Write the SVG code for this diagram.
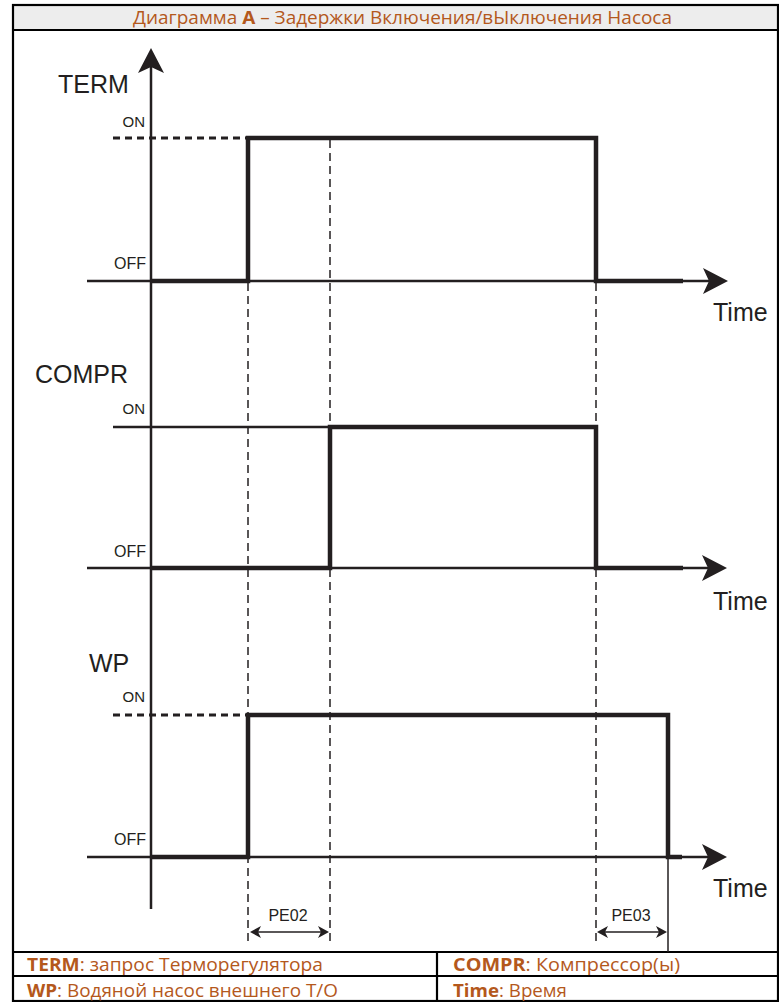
<svg xmlns="http://www.w3.org/2000/svg" width="779" height="1002" viewBox="0 0 779 1002">
<style>
.frame{fill:none;stroke:#000;stroke-width:2.2}
.hdr{font-family:"Open Sans","Noto Sans",sans-serif;font-size:18px;fill:#b4581c}
.b{font-weight:bold}
.lbl{font-family:"Liberation Sans",Arial,sans-serif;fill:#231f20}
.big{font-size:25px}
.on{font-size:15px;text-anchor:end}
.off{font-size:16px;text-anchor:end}
.pe{font-size:16px;text-anchor:middle}
.axis{fill:none;stroke:#231f20;stroke-width:2.5}
.sig{fill:none;stroke:#231f20;stroke-width:4.5;stroke-linejoin:miter}
.dashH{fill:none;stroke:#231f20;stroke-width:3;stroke-dasharray:7 5}
.dashV{fill:none;stroke:#231f20;stroke-width:1.5;stroke-dasharray:8 5}
.thin{fill:none;stroke:#231f20;stroke-width:1.5}
.ah{fill:#231f20}
</style>
<rect width="779" height="1002" fill="#fff"/>
<g id="header">
<rect x="13" y="5" width="765" height="25" fill="#ededed"/>
<text class="hdr" x="133" y="24" textLength="539" lengthAdjust="spacingAndGlyphs">Диаграмма <tspan class="b">A</tspan> –  Задержки Включения/вЫключения Насоса</text>
</g>
<g id="frame">
<rect class="frame" x="13" y="5" width="765" height="996"/>
<line class="frame" x1="13" y1="30" x2="778" y2="30"/>
<line class="frame" x1="13" y1="952" x2="778" y2="952"/>
<line class="frame" x1="13" y1="976" x2="778" y2="976" stroke-width="1.6"/>
<line class="frame" x1="437" y1="952" x2="437" y2="1002" stroke-width="1.6"/>
</g>
<g id="legend">
<text class="hdr" x="27" y="971" textLength="296" lengthAdjust="spacingAndGlyphs"><tspan class="b">TERM</tspan>: запрос Терморегулятора</text>
<text class="hdr" x="453" y="971" textLength="227" lengthAdjust="spacingAndGlyphs"><tspan class="b">COMPR</tspan>: Компрессор(ы)</text>
<text class="hdr" x="27" y="997" textLength="311" lengthAdjust="spacingAndGlyphs"><tspan class="b">WP</tspan>: Водяной насос внешнего Т/О</text>
<text class="hdr" x="453" y="997" textLength="114" lengthAdjust="spacingAndGlyphs"><tspan class="b">Time</tspan>: Время</text>
</g>
<g id="connectors">
<line class="dashV" x1="248" y1="283" x2="248" y2="944"/>
<line class="dashV" x1="330" y1="140" x2="330" y2="944"/>
<line class="dashV" x1="596" y1="283" x2="596" y2="944"/>
<line class="thin" x1="668" y1="857" x2="668" y2="952"/>
<line class="axis" x1="151" y1="62" x2="151" y2="909"/>
<polygon class="ah" points="151,48 138,73 151,67 164,73"/>
<line class="dashH" x1="113" y1="138" x2="248" y2="138"/>
<line class="axis" x1="113" y1="427" x2="330" y2="427"/>
<line class="dashH" x1="113" y1="715" x2="248" y2="715"/>
<line class="axis" x1="87" y1="281" x2="712" y2="281"/>
<polygon class="ah" points="728,281 703,268 709,281 703,294"/>
<line class="axis" x1="87" y1="568" x2="712" y2="568"/>
<polygon class="ah" points="727,568 702,555 708,568 702,581"/>
<line class="axis" x1="87" y1="857" x2="712" y2="857"/>
<polygon class="ah" points="727,857 702,844 708,857 702,870"/>
<path class="sig" d="M151 281 H248 V138 H596 V281 H683"/>
<path class="sig" d="M151 568 H330 V427 H596 V568 H683"/>
<path class="sig" d="M151 857 H248 V715 H668 V857 H682"/>
<line class="thin" x1="255" y1="932" x2="324" y2="932"/>
<polygon class="ah" points="250,932 261,926 258,932 261,938"/>
<polygon class="ah" points="329,932 318,926 321,932 318,938"/>
<line class="thin" x1="601" y1="932" x2="662" y2="932"/>
<polygon class="ah" points="597,932 608,926 605,932 608,938"/>
<polygon class="ah" points="667,932 656,926 659,932 656,938"/>
</g>
<g id="term">
<text class="lbl big" x="58" y="93">TERM</text>
<text class="lbl on" x="145" y="127">ON</text>
<text class="lbl off" x="146" y="269">OFF</text>
<text class="lbl big" x="713" y="321">Time</text>
</g>
<g id="compr">
<text class="lbl big" x="35" y="383">COMPR</text>
<text class="lbl on" x="145" y="414">ON</text>
<text class="lbl off" x="146" y="557">OFF</text>
<text class="lbl big" x="713" y="610">Time</text>
</g>
<g id="wp">
<text class="lbl big" x="89" y="672">WP</text>
<text class="lbl on" x="145" y="702">ON</text>
<text class="lbl off" x="146" y="845">OFF</text>
<text class="lbl big" x="713" y="897">Time</text>
</g>
<g id="pe02">
<text class="lbl pe" x="288" y="921">PE02</text>
</g>
<g id="pe03">
<text class="lbl pe" x="631" y="921">PE03</text>
</g>
</svg>
